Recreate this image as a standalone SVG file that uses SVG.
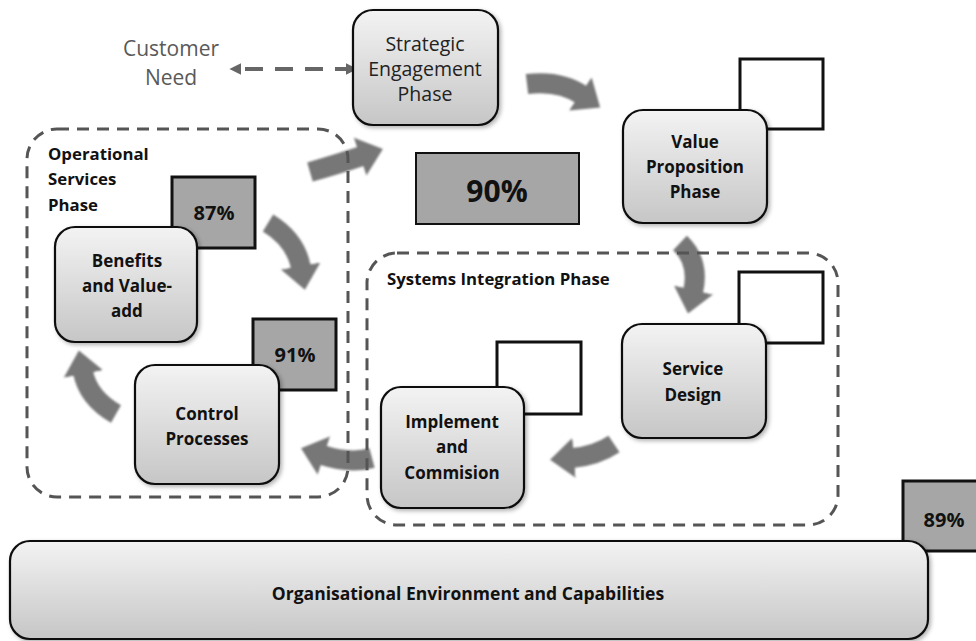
<svg xmlns="http://www.w3.org/2000/svg" width="976" height="641" viewBox="0 0 976 641">
<defs>
<linearGradient id="g" x1="0" y1="0" x2="0" y2="1">
<stop offset="0" stop-color="#f3f3f3"/>
<stop offset="1" stop-color="#c6c6c6"/>
</linearGradient>
<filter id="sh" x="-10%" y="-10%" width="125%" height="125%">
<feDropShadow dx="2" dy="2" stdDeviation="2" flood-color="#000" flood-opacity="0.3"/>
</filter>
<filter id="soft" filterUnits="userSpaceOnUse" x="0" y="0" width="976" height="641">
<feGaussianBlur stdDeviation="0.8"/>
</filter>
<marker id="big" viewBox="0 0 6 10" refX="0.5" refY="5" markerWidth="1.2" markerHeight="2" orient="auto">
<path d="M0,0 L6,5 L0,10 z" fill="#777"/>
</marker>
<marker id="dh" viewBox="0 0 10 10" refX="2" refY="5" markerWidth="12" markerHeight="12" markerUnits="userSpaceOnUse" orient="auto-start-reverse">
<path d="M0,0 L10,5 L0,10 z" fill="#666"/>
</marker>
<style>
.node{fill:url(#g);stroke:#111;stroke-width:2.2;filter:url(#sh)}
.pct{fill:#a6a6a6;stroke:#111;stroke-width:3}
.sq{fill:#fff;stroke:#111;stroke-width:3}
.grp{fill:none;stroke:#555;stroke-width:3;stroke-dasharray:12 8}
.arr{fill:none;stroke:#777;stroke-width:20;marker-end:url(#big)}
.t{font-family:"Open Sans","Liberation Sans",sans-serif;font-size:17px;font-weight:bold;fill:#111;text-anchor:middle}
.tr{font-family:"Open Sans","Liberation Sans",sans-serif;font-size:19.5px;fill:#222;text-anchor:middle}
.lbl{font-family:"Open Sans","Liberation Sans",sans-serif;font-size:16.8px;font-weight:bold;fill:#111}
.p{font-family:"Open Sans","Liberation Sans",sans-serif;font-size:20px;font-weight:bold;fill:#111;text-anchor:middle}
</style>
</defs>

<g id="connectors">
<g filter="url(#soft)">
<path class="arr" d="M527,84 Q560,80 582,95"/>
<path class="arr" d="M680,243 Q700,262 693,292"/>
<path class="arr" d="M614,444 Q596,456 572,458"/>
<path class="arr" d="M372,458 Q350,464 322,455"/>
<path class="arr" d="M116,414 Q88,398 83,372"/>
<path class="arr" d="M268,223 Q296,240 301,268"/>
<path class="arr" d="M310,172 Q338,164 362,156"/>
</g>
<path d="M239,69 L348,69" fill="none" stroke="#666" stroke-width="4" stroke-dasharray="18 12" stroke-dashoffset="-6" marker-start="url(#dh)" marker-end="url(#dh)"/>
</g>

<g id="operational-services-phase">
<rect class="grp" x="27" y="129" width="321" height="368" rx="30"/>
<text class="lbl" x="48" y="160">Operational</text>
<text class="lbl" x="48" y="185">Services</text>
<text class="lbl" x="48" y="211">Phase</text>
</g>

<g id="systems-integration-phase">
<rect class="grp" x="367" y="253" width="471" height="272" rx="30"/>
<text class="lbl" x="387" y="285">Systems Integration Phase</text>
</g>

<g id="customer-need">
<text x="171" y="56" font-family="Open Sans, Liberation Sans, sans-serif" font-size="21" fill="#595959" text-anchor="middle">Customer</text>
<text x="171" y="85" font-family="Open Sans, Liberation Sans, sans-serif" font-size="21" fill="#595959" text-anchor="middle">Need</text>
</g>

<g id="strategic-engagement">
<rect class="node" x="353" y="10" width="145" height="115" rx="20"/>
<text class="tr" x="425" y="51">Strategic</text>
<text class="tr" x="425" y="76">Engagement</text>
<text class="tr" x="425" y="101">Phase</text>
</g>

<g id="value-proposition">
<rect class="sq" x="740" y="59" width="83" height="70"/>
<rect class="node" x="623" y="110" width="144" height="113" rx="20"/>
<text class="t" x="695" y="148">Value</text>
<text class="t" x="695" y="173">Proposition</text>
<text class="t" x="695" y="198">Phase</text>
</g>

<g id="pct-90">
<rect x="416" y="153" width="163" height="71" fill="#a6a6a6" stroke="#111" stroke-width="2"/>
<text class="p" x="497" y="202" style="font-size:30px">90%</text>
</g>

<g id="benefits">
<rect class="pct" x="172" y="177" width="83" height="71"/>
<text class="p" x="214" y="220">87%</text>
<rect class="node" x="55" y="227" width="142" height="115" rx="20"/>
<text class="t" x="127" y="267">Benefits</text>
<text class="t" x="127" y="292">and Value-</text>
<text class="t" x="127" y="317">add</text>
</g>

<g id="control-processes">
<rect class="pct" x="253" y="319" width="83" height="71"/>
<text class="p" x="295" y="362">91%</text>
<rect class="node" x="135" y="365" width="144" height="119" rx="20"/>
<text class="t" x="207" y="420">Control</text>
<text class="t" x="207" y="445">Processes</text>
</g>

<g id="service-design">
<rect class="sq" x="739" y="272" width="84" height="71"/>
<rect class="node" x="622" y="324" width="144" height="114" rx="20"/>
<text class="t" x="693" y="375">Service</text>
<text class="t" x="693" y="401">Design</text>
</g>

<g id="implement-commision">
<rect class="sq" x="497" y="342" width="84" height="72"/>
<rect class="node" x="381" y="387" width="143" height="121" rx="20"/>
<text class="t" x="452" y="428">Implement</text>
<text class="t" x="452" y="453">and</text>
<text class="t" x="452" y="479">Commision</text>
</g>

<g id="organisational-environment">
<rect class="pct" x="903" y="481" width="80" height="70"/>
<text class="p" x="944" y="527">89%</text>
<rect class="node" x="10" y="541" width="918" height="98" rx="20"/>
<text class="t" x="468" y="600" style="font-size:17.5px">Organisational Environment and Capabilities</text>
</g>
</svg>
